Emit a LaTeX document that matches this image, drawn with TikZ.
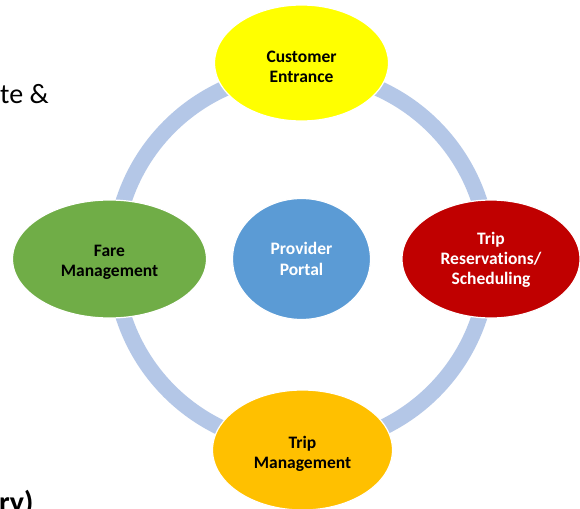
\documentclass[tikz,border=0pt]{standalone}
\usepackage{fontspec}
\setmainfont[Ligatures=NoCommon]{Carlito}
\usetikzlibrary{shapes.geometric}
\definecolor{ringblue}{HTML}{B4C7E7}
\definecolor{ceyellow}{HTML}{FFFF00}
\definecolor{trred}{HTML}{C00000}
\definecolor{tmorange}{HTML}{FFC000}
\definecolor{fmgreen}{HTML}{70AD47}
\definecolor{ppblue}{HTML}{5B9BD5}
\tikzset{
  ring/.style={draw=ringblue, line width=16pt},
  bubble/.style={ellipse, draw=white, line width=1.2pt, inner sep=0pt},
  caption/.style={align=center, inner sep=0pt,
    font=\fontsize{17.5}{20.3}\selectfont\bfseries},
  darktext/.style={caption, text=black},
  lighttext/.style={caption, text=white},
  sidetext/.style={anchor=base west, inner sep=0pt}
}
\begin{document}
\begin{tikzpicture}[x=1pt, y=-1pt]
  \useasboundingbox (0,0) rectangle (580,508);
  \clip (0,0) rectangle (580,508);
  \fill[white] (0,0) rectangle (580,508);

  % cycle ring behind the bubbles
  \coordinate (hub) at (301.5,259);
  \draw[ring] (hub) circle[radius=187];

  % outer bubbles
  \node[bubble, fill=ceyellow, minimum width=174pt, minimum height=116pt]
    (entrance) at (301.5,63) {};
  \node[bubble, fill=trred, minimum width=178pt, minimum height=118pt]
    (reserve) at (491,259) {};
  \node[bubble, fill=tmorange, minimum width=180pt, minimum height=120pt]
    (tripmgmt) at (302.5,450) {};
  \node[bubble, fill=fmgreen, minimum width=194pt, minimum height=118pt]
    (fare) at (109.5,259) {};

  % central bubble
  \node[bubble, fill=ppblue, minimum width=138pt, minimum height=121pt]
    (portal) at (hub) {};

  % bubble captions
  \node[darktext] (entrance-text) at ([yshift=-4pt]entrance.center) {Customer\\Entrance};
  \node[lighttext] (reserve-text) at ([yshift=-1pt]reserve.center) {Trip\\Reservations/\\Scheduling};
  \node[darktext] (tripmgmt-text) at ([yshift=-4pt]tripmgmt.center) {Trip\\Management};
  \node[darktext] (fare-text) at ([yshift=-3pt]fare.center) {Fare\\Management};
  \node[lighttext] (portal-text) at ([yshift=0pt]portal.center) {Provider\\Portal};

  % surrounding slide text
  \node[sidetext, font=\fontsize{28}{32}\selectfont] (lefttop) at (0,103) {te \&};
  \node[sidetext, font=\fontsize{30}{34}\selectfont\bfseries] (leftbottom) at (-1,512) {ry)};
\end{tikzpicture}
\end{document}
